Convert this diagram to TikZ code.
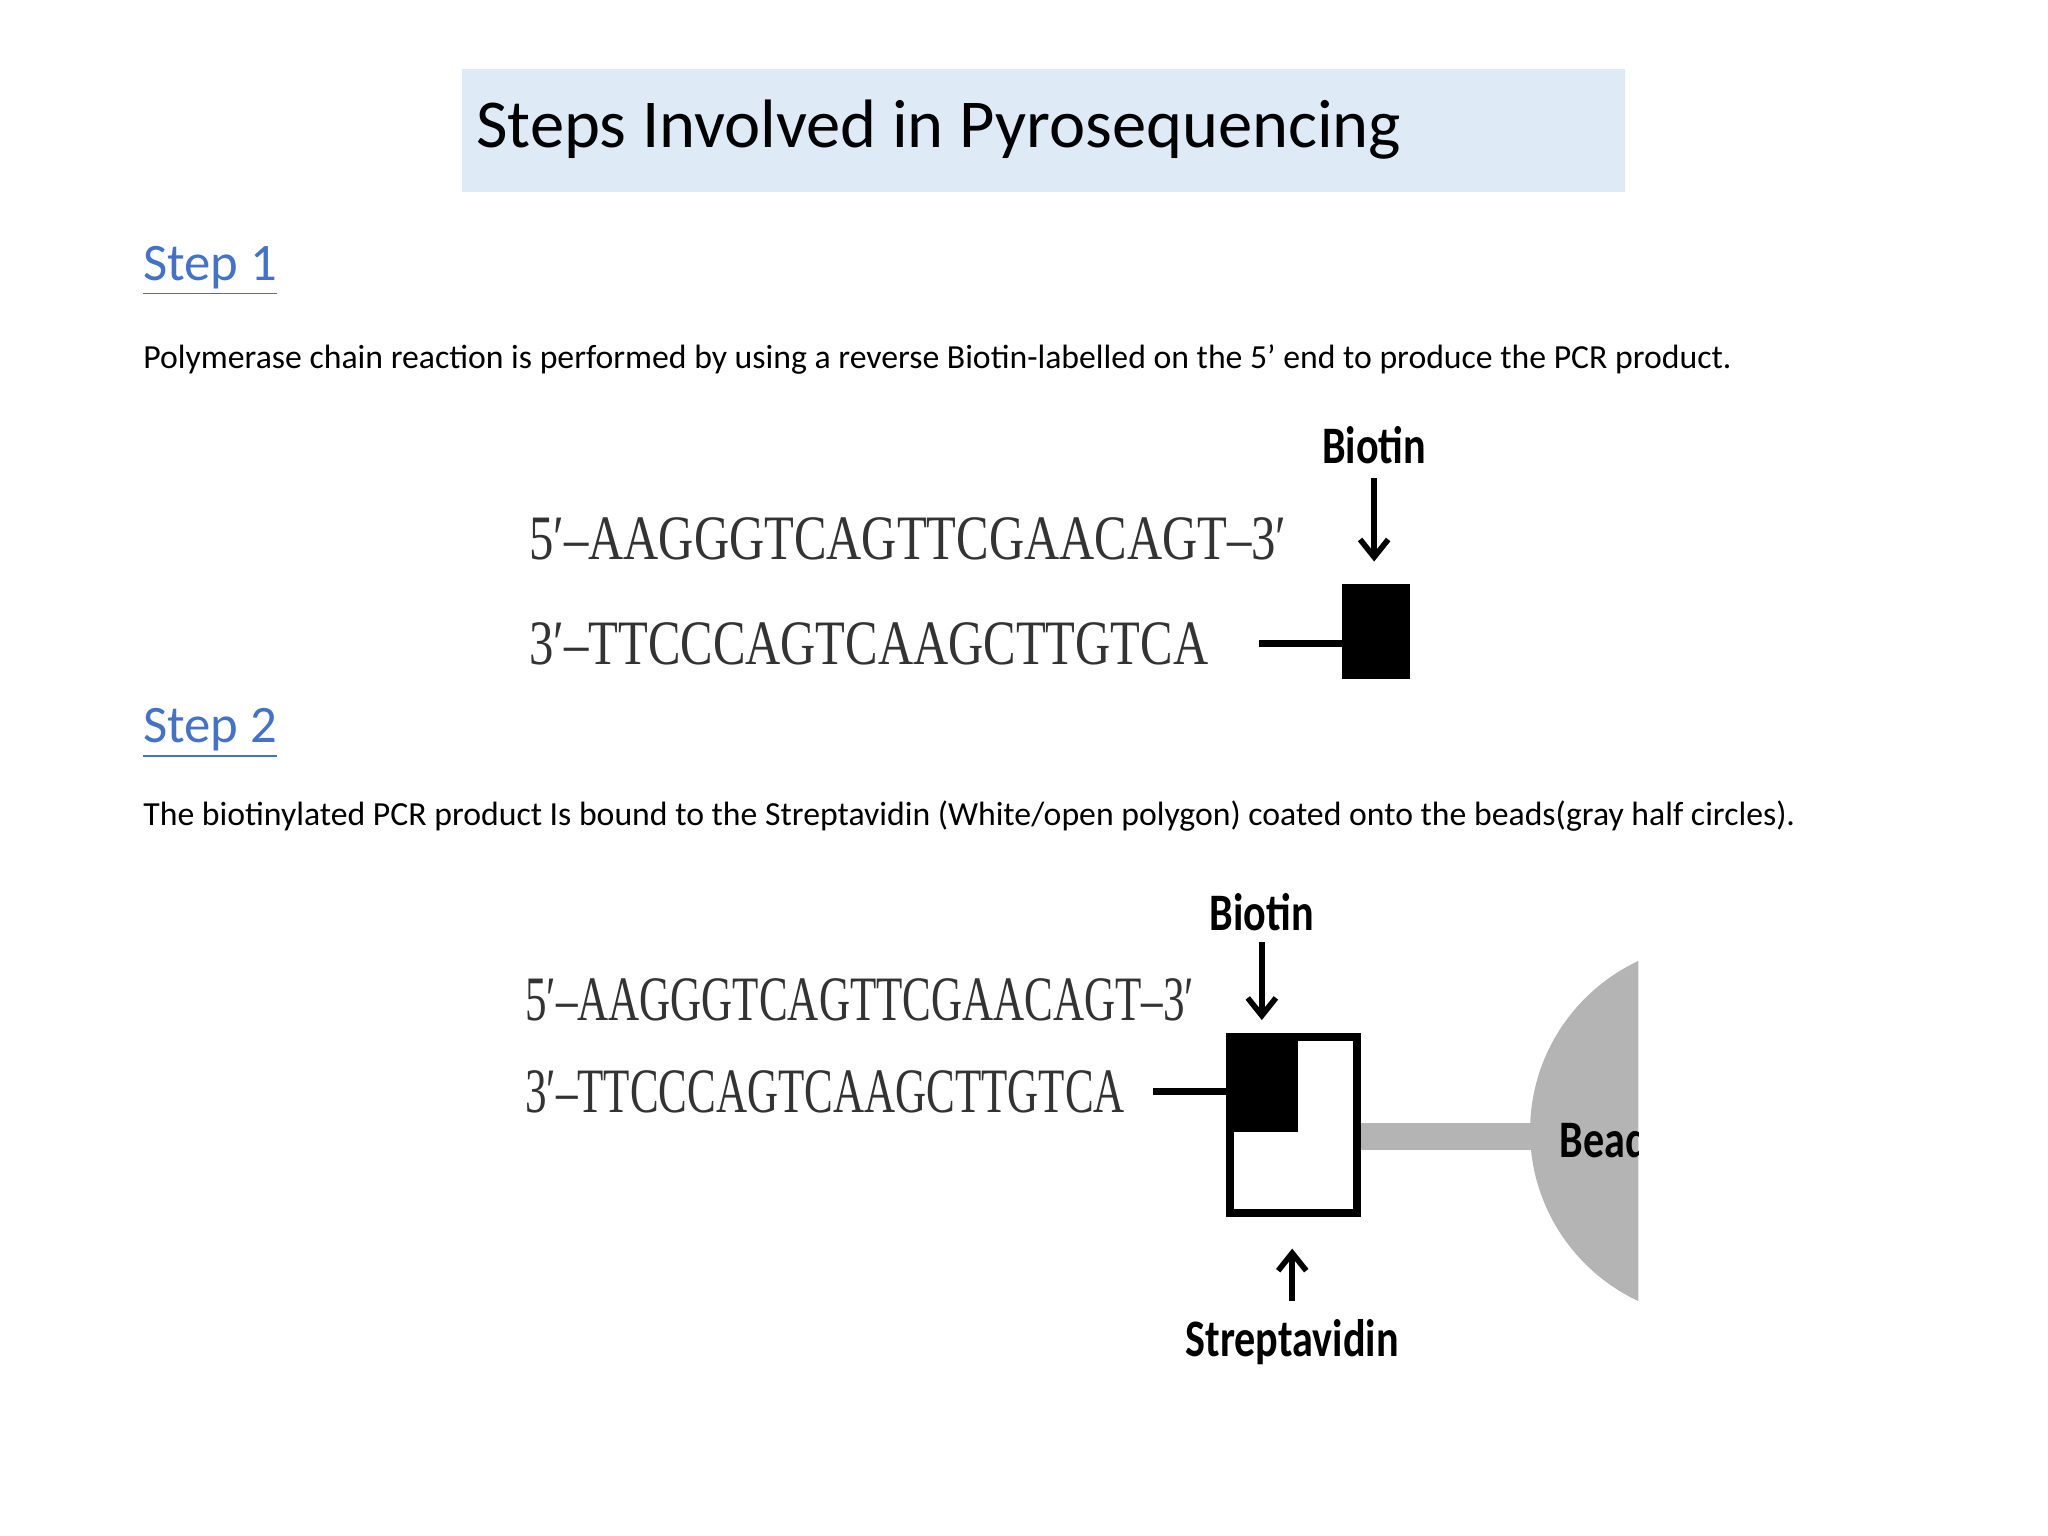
\documentclass[tikz,border=0pt]{standalone}
\usetikzlibrary{arrows.meta}
\usepackage{fontspec}
\setmainfont{Carlito}
\newfontfamily\seqf[FakeStretch=0.77]{Liberation Serif}
\newfontfamily\seqg[FakeStretch=0.68]{Liberation Serif}
\newfontfamily\lblf[FakeStretch=0.8]{Carlito}
\definecolor{titlebg}{HTML}{DEEAF6}
\definecolor{stepblue}{HTML}{4472C4}
\definecolor{beadgray}{HTML}{B4B4B4}
\begin{document}
\begin{tikzpicture}[x=0.013213cm,y=-0.013213cm,
  seq/.style={anchor=west,inner sep=0,font=\seqf\fontsize{18}{18}\selectfont,text=black!80},
  seqb/.style={anchor=west,inner sep=0,font=\seqg\fontsize{18}{18}\selectfont,text=black!80},
  lbl/.style={inner sep=0,font=\lblf\bfseries\fontsize{15}{15}\selectfont},
  steph/.style={anchor=west,inner sep=0,text=stepblue,font=\fontsize{15}{15}\selectfont},
  para/.style={anchor=west,inner sep=0,font=\fontsize{9.6}{10}\selectfont},
  arr/.style={line width=1.6pt,-{Straight Barb[length=5pt,width=8pt]}}]
\useasboundingbox (0,0) rectangle (1550,1162);
\fill[titlebg] (350,52) rectangle (1230,145);
\node[anchor=west,inner sep=0,font=\fontsize{19.5}{19}\selectfont] (title) at (360,98) {Steps Involved in Pyrosequencing};
\node[steph] (s1) at (108,205) {\underline{Step 1}};
\node[para] (p1) at (108,272) {Polymerase chain reaction is performed by using a reverse Biotin-labelled on the 5’ end to produce the PCR product.};
% diagram 1
\node[seq] (a1) at (400,408) {5′–AAGGGTCAGTTCGAACAGT–3′};
\node[seq] (b1) at (400,487) {3′–TTCCCAGTCAAGCTTGTCA};
\fill[black] (1016,442) rectangle (1067,514);
\coordinate (l1s) at (953,487); \coordinate (l1e) at (1018,487);
\draw[line width=2pt] (l1s) -- (l1e);
\node[lbl] (bt1) at (1040,337) {Biotin};
\coordinate (ar1s) at (1040,362); \coordinate (ar1e) at (1040,425);
\draw[arr] (ar1s) -- (ar1e);
\node[steph] (s2) at (108,555) {\underline{Step 2}};
\node[para] (p2) at (108,618) {The biotinylated PCR product Is bound to the Streptavidin (White/open polygon) coated onto the beads(gray half circles).};
% diagram 2
\node[seqb] (a2) at (397,757) {5′–AAGGGTCAGTTCGAACAGT–3′};
\node[seqb] (b2) at (397,826) {3′–TTCCCAGTCAAGCTTGTCA};
\fill[beadgray] (1027,850) rectangle (1160,870);
\begin{scope}
\clip (1100,700) rectangle (1240,1010);
\fill[beadgray] (1300,856) circle (142);
\node[lbl,anchor=west] (bead) at (1180,862) {Bead};
\end{scope}
\draw[line width=2pt] (873,826) -- (933,826);
\fill[black] (931,785) rectangle (982,857);
\draw[line width=2.2pt] (931,785) rectangle (1027,918);
\node[lbl] (bt2) at (955,690) {Biotin};
\draw[arr] (955,713) -- (955,772);
\node[lbl] (strep) at (978,1016) {Streptavidin};
\draw[arr] (978,985) -- (978,945);
\end{tikzpicture}
\end{document}
